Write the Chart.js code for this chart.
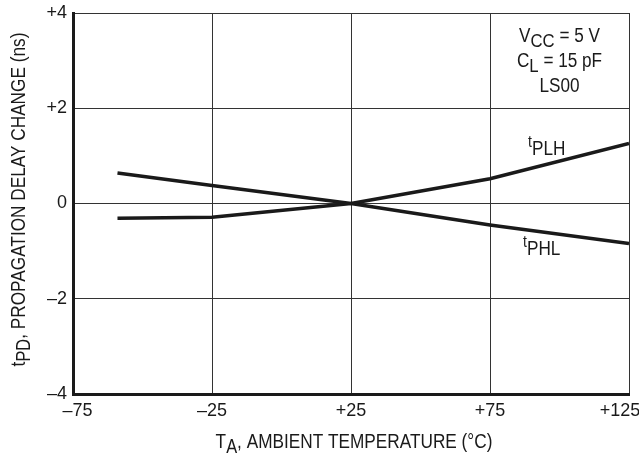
<!DOCTYPE html>
<html lang="en">
<head>
    <meta charset="UTF-8">
    <title>Propagation Delay Change vs Ambient Temperature</title>
    <script src="https://cdn.jsdelivr.net/npm/chart.js"></script>
    <style>
        html, body { margin: 0; padding: 0; background: #fff; }
        .canvasd { width: 639px; height: 453px; }
    </style>
</head>
<body>
<div class="canvasd">
    <canvas id="delayChart" width="639" height="453"></canvas>
</div>

<script>
    // values
    const temps = [-59, -25, 25, 75, 125];
    const tPLH = [-0.31, -0.29, 0, 0.52, 1.26];
    const tPHL = [0.64, 0.38, 0, -0.45, -0.84];
    const xTicks = { '-75': '\u2002\u201375', '-25': '\u201325', '25': '+25', '75': '+75', '125': '+125\u2003' };
    const yTicks = { '4': '+4', '2': '+2', '0': '0', '-2': '\u20132', '-4': '\u20134' };

    const FONT = '"Liberation Sans", Arial, sans-serif';
    const INK = '#1a1a1a';

    // draws a run of text pieces (for subscripts), squeezed horizontally by k
    function drawParts(ctx, parts, x, y, align, k) {
        let total = 0;
        parts.forEach(p => {
            ctx.font = p.size + 'px ' + FONT;
            p.w = ctx.measureText(p.t).width;
            total += p.w;
        });
        ctx.save();
        ctx.translate(x, y);
        ctx.scale(k, 1);
        let cx = align === 'center' ? -total / 2 : 0;
        parts.forEach(p => {
            ctx.font = p.size + 'px ' + FONT;
            ctx.fillText(p.t, cx, p.dy || 0);
            cx += p.w;
        });
        ctx.restore();
    }

    const textPlugin = {
        id: 'texts',
        afterDraw(chart) {
            const ctx = chart.ctx;
            const xs = chart.scales.x, ys = chart.scales.y;
            const area = chart.chartArea;
            ctx.save();
            ctx.fillStyle = INK;
            ctx.textAlign = 'left';
            ctx.textBaseline = 'alphabetic';

            // conditions box
            const cx = xs.getPixelForValue(100);
            drawParts(ctx, [{t: 'V', size: 19.5}, {t: 'CC', size: 19, dy: 5}, {t: ' = 5 V', size: 19.5}], cx, ys.getPixelForValue(3.39), 'center', 0.88);
            drawParts(ctx, [{t: 'C', size: 19.5}, {t: 'L', size: 19, dy: 5}, {t: ' = 15 pF', size: 19.5}], cx, ys.getPixelForValue(2.87), 'center', 0.88);
            drawParts(ctx, [{t: 'LS00', size: 19.5}], cx, ys.getPixelForValue(2.34), 'center', 0.88);

            // curve labels
            drawParts(ctx, [{t: 't', size: 16, dy: -8}, {t: 'PLH', size: 19.5}], xs.getPixelForValue(88.7), ys.getPixelForValue(1.02), 'left', 0.88);
            drawParts(ctx, [{t: 't', size: 16, dy: -8}, {t: 'PHL', size: 19.5}], xs.getPixelForValue(86.9), ys.getPixelForValue(-1.08), 'left', 0.88);

            // x axis title
            drawParts(ctx, [{t: 'T', size: 21}, {t: 'A', size: 20, dy: 5}, {t: ', AMBIENT TEMPERATURE (\u00B0C)', size: 21}],
                (area.left + area.right) / 2 + 3, 448, 'center', 0.82);

            // y axis title
            ctx.translate(25, (area.top + area.bottom) / 2 - 4);
            ctx.rotate(-Math.PI / 2);
            drawParts(ctx, [{t: 't', size: 21}, {t: 'PD', size: 20, dy: 5}, {t: ', PROPAGATION DELAY CHANGE (ns)', size: 21}], 0, 0, 'center', 0.82);
            ctx.restore();
        }
    };

    const chartConfig = {
        type: 'line',
        data: {
            datasets: [
                {
                    label: 'tPLH',
                    data: temps.map((t, i) => ({ x: t, y: tPLH[i] })),
                    borderColor: INK,
                    borderWidth: 3.5,
                    pointRadius: 0,
                    tension: 0
                },
                {
                    label: 'tPHL',
                    data: temps.map((t, i) => ({ x: t, y: tPHL[i] })),
                    borderColor: INK,
                    borderWidth: 3.5,
                    pointRadius: 0,
                    tension: 0
                }
            ]
        },
        options: {
            responsive: false,
            animation: false,
            layout: { padding: { top: 13, right: 10, left: 0, bottom: 0 } },
            plugins: {
                legend: { display: false },
                tooltip: { enabled: false }
            },
            scales: {
                x: {
                    type: 'linear',
                    min: -75,
                    max: 125,
                    ticks: {
                        stepSize: 50,
                        padding: 6,
                        color: INK,
                        font: { family: FONT, size: 18 },
                        maxRotation: 0,
                        callback: v => xTicks[String(v)]
                    },
                    grid: { color: '#333', lineWidth: 1, drawTicks: false },
                    border: { color: INK, width: 3 },
                    afterFit(s) { s.height = 59; s.paddingLeft = 0; s.paddingRight = 0; }
                },
                y: {
                    min: -4,
                    max: 4,
                    ticks: {
                        stepSize: 2,
                        padding: 6,
                        color: INK,
                        font: { family: FONT, size: 18 },
                        callback: v => yTicks[String(v)]
                    },
                    grid: { color: '#333', lineWidth: 1, drawTicks: false },
                    border: { color: INK, width: 3 },
                    afterFit(s) { s.width = 73; s.paddingTop = 0; s.paddingBottom = 0; }
                }
            }
        },
        plugins: [textPlugin]
    };

    const delayChart = new Chart(document.getElementById('delayChart').getContext('2d'), chartConfig);
</script>
</body>
</html>
